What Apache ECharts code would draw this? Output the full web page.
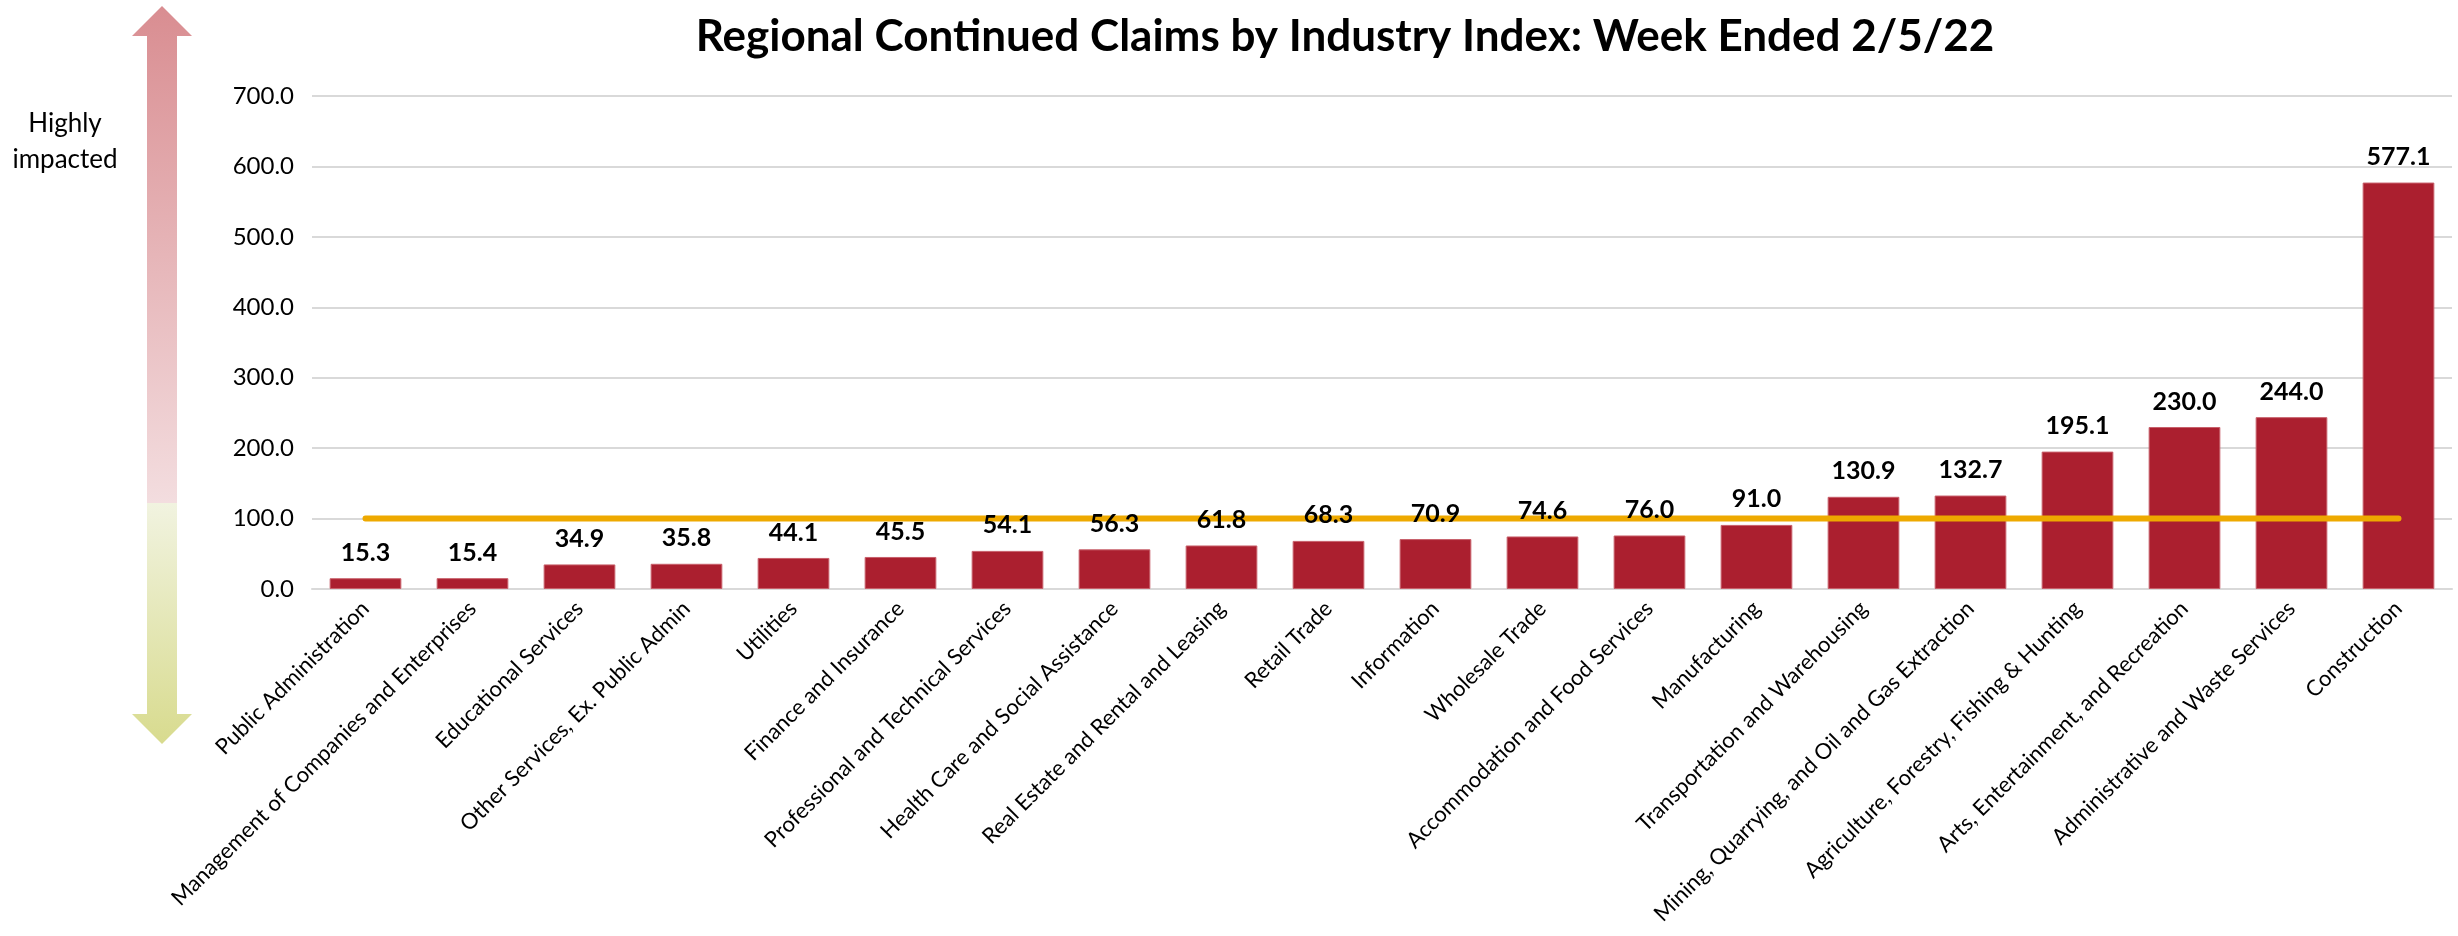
<!DOCTYPE html>
<html>
	<head>
		<meta charset="UTF-8">
		<title>Regional Continued Claims by Industry Index</title>
		<style>
			html, body { margin: 0; padding: 0; background: #fff; }
		</style>
	</head>
	<body>
		<div id="chart" style="width:2458px;height:936px;"></div>
	</body>
	<script src="https://cdn.jsdelivr.net/npm/echarts@6/dist/echarts.min.js" type="text/javascript" charset="utf-8"></script>
	<script type="text/javascript">

		var industries = [
			'Public Administration',
			'Management of Companies and Enterprises',
			'Educational Services',
			'Other Services, Ex. Public Admin',
			'Utilities',
			'Finance and Insurance',
			'Professional and Technical Services',
			'Health Care and Social Assistance',
			'Real Estate and Rental and Leasing',
			'Retail Trade',
			'Information',
			'Wholesale Trade',
			'Accommodation and Food Services',
			'Manufacturing',
			'Transportation and Warehousing',
			'Mining, Quarrying, and Oil and Gas Extraction',
			'Agriculture, Forestry, Fishing & Hunting',
			'Arts, Entertainment, and Recreation',
			'Administrative and Waste Services',
			'Construction'
		];
		var claimsIndex = [15.3, 15.4, 34.9, 35.8, 44.1, 45.5, 54.1, 56.3, 61.8, 68.3,
			70.9, 74.6, 76.0, 91.0, 130.9, 132.7, 195.1, 230.0, 244.0, 577.1];
		// reference level (index = 100)
		var baseline = [100, 100, 100, 100, 100, 100, 100, 100, 100, 100,
			100, 100, 100, 100, 100, 100, 100, 100, 100, 100];
		var yTicks = { min: 0, max: 700, step: 100 };

		var font = 'Lato';
		var myChart = echarts.init(document.getElementById('chart'));

		var option = {
			animation: false,
			title: {
				text: 'Regional Continued Claims by Industry Index: Week Ended 2/5/22',
				left: 1340,
				textAlign: 'center',
				top: 10,
				textStyle: {
					fontFamily: font,
					fontSize: 44,
					fontWeight: 'bold',
					color: '#000'
				}
			},
			grid: {
				left: 312,
				right: 6,
				top: 96,
				bottom: 347
			},
			xAxis: {
				type: 'category',
				data: industries,
				axisTick: { show: false },
				axisLine: { lineStyle: { color: '#D9D9D9', width: 2 } },
				axisLabel: {
					interval: 0,
					rotate: 45,
					margin: 16,
					fontFamily: font,
					fontSize: 22,
					color: '#000'
				}
			},
			yAxis: {
				type: 'value',
				min: yTicks.min,
				max: yTicks.max,
				interval: yTicks.step,
				axisLine: { show: false },
				axisTick: { show: false },
				splitLine: { lineStyle: { color: '#D9D9D9', width: 2 } },
				axisLabel: {
					margin: 18,
					fontFamily: font,
					fontSize: 24,
					color: '#000',
					formatter: function (v) { return v.toFixed(1); }
				}
			},
			graphic: [
				{
					type: 'polygon',
					shape: { points: [[162, 6], [192, 36], [177, 36], [177, 503], [147, 503], [147, 36], [132, 36]] },
					style: {
						fill: new echarts.graphic.LinearGradient(0, 0, 0, 1, [
							{ offset: 0, color: '#D98D91' },
							{ offset: 1, color: '#F3DDDF' }
						])
					}
				},
				{
					type: 'polygon',
					shape: { points: [[147, 503], [177, 503], [177, 714], [192, 714], [162, 744], [132, 714], [147, 714]] },
					style: {
						fill: new echarts.graphic.LinearGradient(0, 0, 0, 1, [
							{ offset: 0, color: '#F1F3E0' },
							{ offset: 1, color: '#D8DB8E' }
						])
					}
				},
				{
					type: 'text',
					x: 65,
					y: 142,
					style: {
						text: 'Highly\nimpacted',
						align: 'center',
						verticalAlign: 'middle',
						font: '26px Lato',
						lineHeight: 36,
						fill: '#000'
					}
				}
			],
			series: [
				{
					name: 'Index',
					type: 'bar',
					data: claimsIndex,
					barWidth: '67%',
					z: 2,
					itemStyle: { color: '#AB1F2F', borderColor: '#C8606B', borderWidth: 1 }
				},
				{
					name: 'Baseline',
					type: 'line',
					data: baseline,
					symbol: 'none',
					z: 3,
					lineStyle: { color: '#EEA900', width: 6, cap: 'round' }
				},
				{
					// same values again, invisible, only to put the labels above the line
					name: 'Labels',
					type: 'bar',
					data: claimsIndex,
					barWidth: '67%',
					barGap: '-100%',
					z: 4,
					silent: true,
					itemStyle: { color: 'transparent' },
					label: {
						show: true,
						position: 'top',
						distance: 13,
						fontFamily: font,
						fontSize: 25,
						fontWeight: 'bold',
						color: '#000',
						formatter: function (p) { return p.value.toFixed(1); }
					}
				}
			]
		};
		myChart.setOption(option);
	</script>
</html>
